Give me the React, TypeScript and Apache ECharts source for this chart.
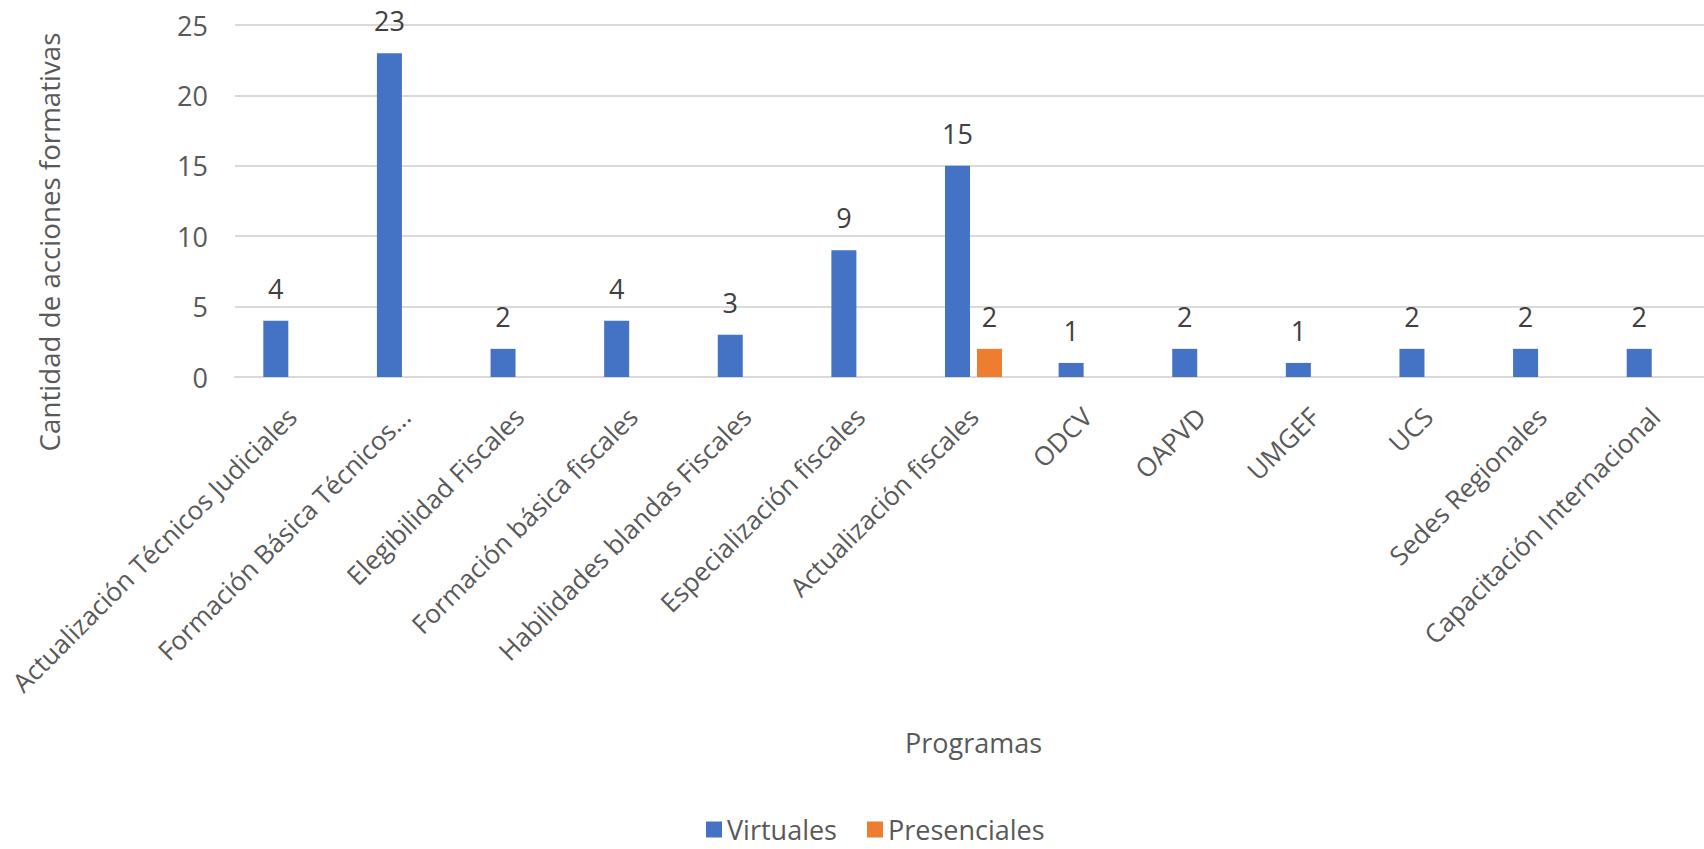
import React, { useEffect, useRef } from "react";
import * as echarts from "echarts";

const categories = [
  "Actualización Técnicos Judiciales",
  "Formación Básica Técnicos...",
  "Elegibilidad Fiscales",
  "Formación básica fiscales",
  "Habilidades blandas Fiscales",
  "Especialización fiscales",
  "Actualización fiscales",
  "ODCV",
  "OAPVD",
  "UMGEF",
  "UCS",
  "Sedes Regionales",
  "Capacitación Internacional",
];

const virtuales = [4, 23, 2, 4, 3, 9, 15, 1, 2, 1, 2, 2, 2];
const presenciales = [null, null, null, null, null, null, 2, null, null, null, null, null, null];

const yTicks = { min: 0, max: 25, interval: 5 };

const FONT = "'Open Sans', sans-serif";
const TEXT = "#595959";
const GRID = "#d9d9d9";
const FS = 27;

export default function App() {
  const ref = useRef<HTMLDivElement>(null);

  useEffect(() => {
    if (!ref.current) return;
    const chart = echarts.init(ref.current, undefined, { renderer: "svg" });
    const dataLabel = {
      show: true,
      position: "top",
      distance: 19,
      fontFamily: FONT,
      fontSize: FS,
      color: "#404040",
    };
    chart.setOption({
      animation: false,
      backgroundColor: "#ffffff",
      textStyle: { fontFamily: FONT, color: TEXT },
      grid: {
        left: 235,
        top: 25,
        right: -8,
        height: 352,
        containLabel: false,
        outerBoundsMode: "none",
      },
      legend: {
        left: 706,
        top: 816,
        padding: 0,
        itemWidth: 16,
        itemHeight: 16,
        itemGap: 30,
        icon: "rect",
        textStyle: { fontFamily: FONT, fontSize: FS, color: TEXT },
        data: ["Virtuales", "Presenciales"],
      },
      xAxis: {
        type: "category",
        data: categories,
        name: "Programas",
        nameLocation: "middle",
        nameGap: 352,
        nameTextStyle: { fontFamily: FONT, fontSize: FS, color: TEXT },
        axisLine: { show: true, lineStyle: { color: GRID, width: 2 } },
        axisTick: { show: false },
        axisLabel: {
          interval: 0,
          rotate: 45,
          margin: 35,
          fontFamily: FONT,
          fontSize: 26,
          color: TEXT,
        },
      },
      yAxis: {
        type: "value",
        min: yTicks.min,
        max: yTicks.max,
        interval: yTicks.interval,
        axisLine: { show: false },
        axisTick: { show: false },
        splitLine: { show: true, lineStyle: { color: GRID, width: 2 } },
        axisLabel: { margin: 27, fontFamily: FONT, fontSize: FS, color: TEXT },
      },
      graphic: [
        {
          type: "text",
          x: 49,
          y: 242,
          rotation: Math.PI / 2,
          style: {
            text: "Cantidad de acciones formativas",
            fontFamily: FONT,
            fontSize: 27.7,
            fill: TEXT,
            align: "center",
            verticalAlign: "middle",
          },
        },
      ],
      series: [
        {
          name: "Virtuales",
          type: "bar",
          data: virtuales,
          barWidth: 25,
          barGap: "28%",
          itemStyle: { color: "#4472C4" },
          label: dataLabel,
        },
        {
          name: "Presenciales",
          type: "bar",
          data: presenciales,
          barWidth: 25,
          barGap: "28%",
          itemStyle: { color: "#ED7D31" },
          label: dataLabel,
        },
      ],
    });
    return () => chart.dispose();
  }, []);

  return (
    <div
      ref={ref}
      style={{ position: "absolute", left: 0, top: 0, width: 1704, height: 849 }}
    />
  );
}
